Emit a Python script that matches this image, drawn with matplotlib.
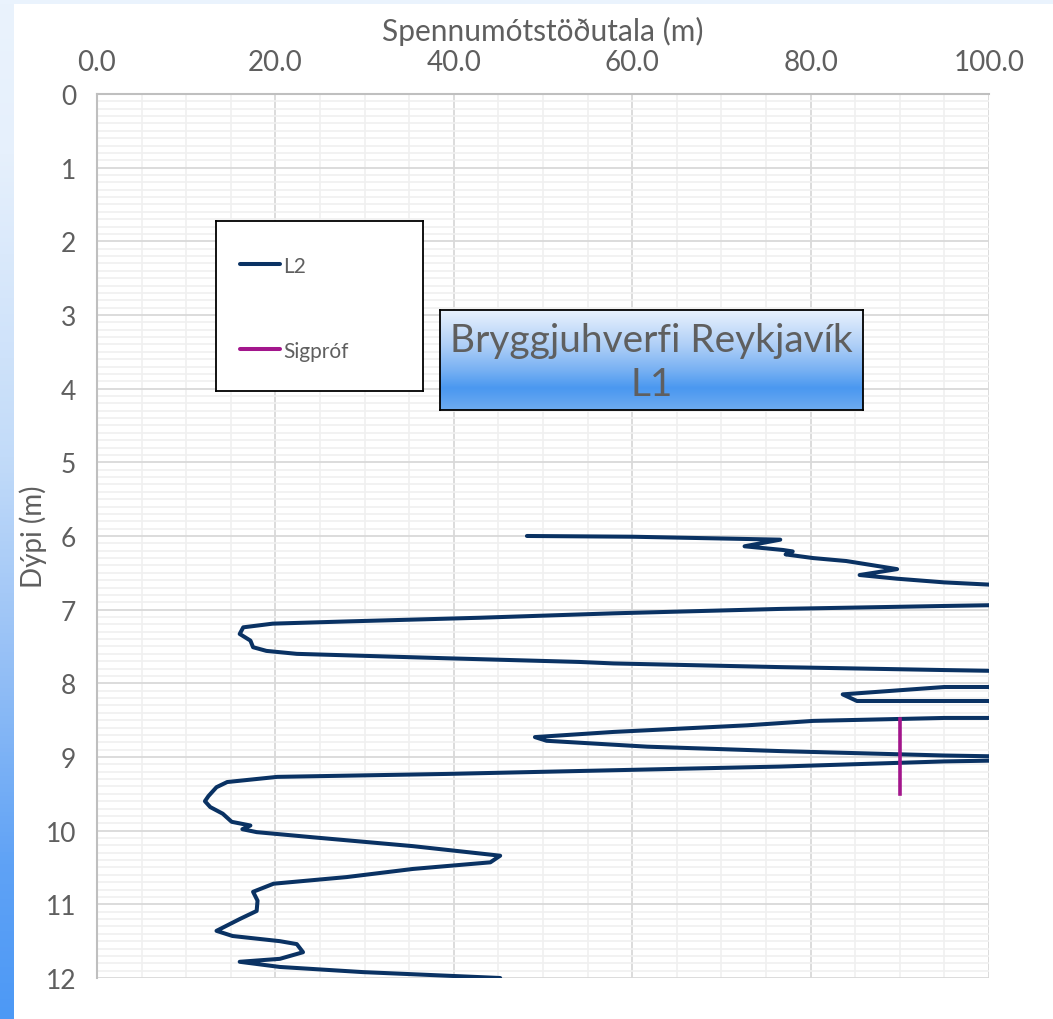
import numpy as np
import matplotlib.pyplot as plt
from matplotlib.colors import LinearSegmentedColormap

plt.rcParams['font.family'] = ['Lato', 'DejaVu Sans']

# L2 sondering: spennumótstöðutala (m) á móti dýpi (m)
l2_x = [48.2, 60.0, 76.6, 72.6, 76.9, 78.0, 77.2, 80.3, 84.0, 89.7, 85.5, 89.7, 95.0, 100.0,
        104.0, 100.0, 95.0, 76.6, 57.9, 42.9, 28.0, 19.7, 16.4, 16.0, 17.2, 17.5, 19.0, 22.4,
        39.2, 54.1, 57.9, 76.6, 95.0, 100.0, 104.0, 100.0, 95.0, 83.6, 85.2, 95.0, 100.0,
        104.0, 100.0, 95.0, 80.3, 72.9, 57.9, 49.1, 50.4, 61.7, 76.6, 95.0, 100.0, 103.0,
        100.0, 95.0, 76.6, 57.9, 39.2, 20.2, 14.6, 13.4, 12.5, 12.1, 12.7, 14.1, 15.1, 17.2,
        16.3, 17.9, 24.2, 35.4, 45.2, 44.1, 35.4, 28.0, 19.8, 17.5, 18.0, 17.9, 16.0, 13.4,
        15.2, 20.5, 22.4, 23.1, 20.5, 16.0, 20.5, 29.8, 45.2]
l2_d = [6.00, 6.01, 6.05, 6.14, 6.19, 6.21, 6.25, 6.30, 6.34, 6.45, 6.53, 6.58, 6.63, 6.66,
        6.80, 6.94, 6.95, 6.99, 7.05, 7.11, 7.16, 7.19, 7.24, 7.33, 7.42, 7.51, 7.56, 7.60,
        7.66, 7.71, 7.73, 7.78, 7.82, 7.83, 7.95, 8.05, 8.05, 8.15, 8.24, 8.24, 8.24,
        8.35, 8.47, 8.47, 8.51, 8.57, 8.66, 8.73, 8.78, 8.86, 8.92, 8.98, 8.99, 9.02,
        9.05, 9.06, 9.13, 9.18, 9.23, 9.27, 9.34, 9.41, 9.53, 9.60, 9.68, 9.77, 9.88, 9.93,
        9.98, 10.02, 10.09, 10.21, 10.34, 10.43, 10.52, 10.63, 10.72, 10.83, 10.95, 11.09, 11.20, 11.36,
        11.43, 11.50, 11.54, 11.65, 11.74, 11.78, 11.85, 11.92, 12.00]

# sigprof
sig_x = [90.0, 90.0]
sig_d = [8.48, 9.50]

x_ticks = [0, 20, 40, 60, 80, 100]
y_ticks = list(range(13))

navy = '#0a3263'
magenta = '#a3168c'
grey = '#5f5f5f'

fig = plt.figure(figsize=(10.53, 10.20), dpi=100)
fig.patch.set_facecolor('white')

# bakgrunnur: ljósblá rönd efst og blár litaferill vinstra megin
bg = fig.add_axes([0, 0, 1, 1], zorder=-5)
bg.set_xlim(0, 1053)
bg.set_ylim(1020, 0)
bg.axis('off')
bg.axhspan(0, 5, color='#eaf3fd', lw=0)
strip_cmap = LinearSegmentedColormap.from_list('strip', [(0, '#eaf3fd'), (0.15, '#e6f0fc'),
                                                         (0.45, '#c2dbf9'), (0.65, '#96c0f6'),
                                                         (0.85, '#5fa2f5'), (1, '#4d99f5')])
grad = np.linspace(0, 1, 256).reshape(-1, 1)
bg.imshow(grad, cmap=strip_cmap, extent=[0, 14, 1020, 0], aspect='auto')

ax = fig.add_axes([0.0921, 0.0402, 0.8471, 0.8667])
ax.plot(l2_x, l2_d, color=navy, lw=2.9, solid_joinstyle='round', solid_capstyle='round', zorder=3)
ax.plot(sig_x, sig_d, color=magenta, lw=2.6, zorder=3)

ax.set_xlim(0, 100)
ax.set_ylim(12, 0)
ax.xaxis.tick_top()
ax.xaxis.set_label_position('top')
ax.set_xticks(x_ticks)
ax.set_xticklabels([f'{v:.1f}' for v in x_ticks])
ax.set_yticks(y_ticks)
ax.set_xticks(np.arange(0, 101, 5), minor=True)
ax.set_yticks(np.arange(0, 12.01, 0.1), minor=True)
ax.grid(which='minor', color='#f0f0f0', lw=1.2)
ax.grid(which='major', color='#d9d9d9', lw=1.3)
ax.set_axisbelow(True)
ax.tick_params(which='both', length=0)
ax.tick_params(axis='x', pad=14, labelsize=20, labelcolor=grey)
ax.tick_params(axis='y', pad=15, labelsize=19, labelcolor=grey)
for s in ax.spines.values():
    s.set_visible(False)
ax.spines['left'].set_visible(True)
ax.spines['top'].set_visible(True)
ax.spines['left'].set_color('#bfbfbf')
ax.spines['top'].set_color('#bfbfbf')
ax.spines['left'].set_linewidth(1.5)
ax.spines['top'].set_linewidth(1.5)
ax.set_xlabel('Spennumótstöðutala (m)', fontsize=21.5, color=grey, labelpad=6)
ax.set_ylabel('Dýpi (m)', fontsize=20, color=grey)
ax.yaxis.set_label_coords(-0.056, 0.5)

# skýringarkassi
leg = fig.add_axes([0.2051, 0.6157, 0.1966, 0.1667], zorder=5)
leg.set_xlim(0, 207)
leg.set_ylim(170, 0)
leg.set_xticks([])
leg.set_yticks([])
for s in leg.spines.values():
    s.set_color('black')
    s.set_linewidth(1.3)
leg.plot([24, 64], [43, 43], color=navy, lw=2.9, solid_capstyle='round')
leg.text(67, 45, 'L2', fontsize=15, color=grey, va='center')
leg.plot([24, 64], [128, 128], color=magenta, lw=2.9, solid_capstyle='round')
leg.text(67, 130, 'Sigpróf', fontsize=15, color=grey, va='center')

# titilkassi með litaferli
tb = fig.add_axes([0.4179, 0.5971, 0.4017, 0.098], zorder=5)
box_cmap = LinearSegmentedColormap.from_list('box', [(0, '#e9f2fd'), (0.35, '#afcff7'),
                                                     (0.6, '#78b1f3'), (0.78, '#4a98f0'),
                                                     (1, '#6eabf1')])
tb.imshow(grad, cmap=box_cmap, extent=[0, 1, 0, 1], aspect='auto')
tb.set_xlim(0, 1)
tb.set_ylim(0, 1)
tb.set_xticks([])
tb.set_yticks([])
for s in tb.spines.values():
    s.set_color('black')
    s.set_linewidth(1.3)
tb.text(0.5, 0.70, 'Bryggjuhverfi Reykjavík', fontsize=28, color=grey, ha='center', va='center')
tb.text(0.5, 0.26, 'L1', fontsize=28, color=grey, ha='center', va='center')

fig.savefig('out.png', dpi=100)
